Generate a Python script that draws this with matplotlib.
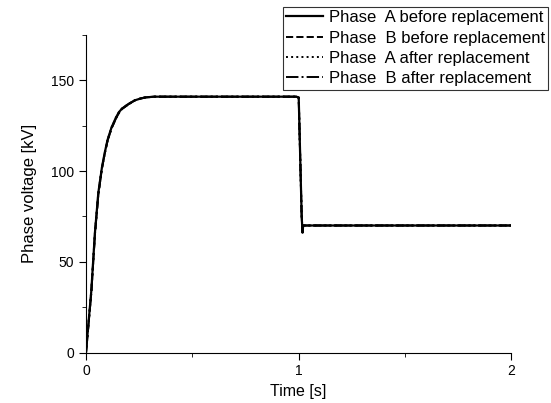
import matplotlib
matplotlib.use('Agg')
import matplotlib.pyplot as plt
from matplotlib.ticker import MultipleLocator

plt.rcParams['font.family'] = ['Liberation Sans', 'DejaVu Sans']

# time [s] and phase voltage [kV]
T_A_BEFORE = [0, 0.01, 0.025, 0.042, 0.058, 0.075, 0.088, 0.101, 0.12, 0.141, 0.155, 0.17, 0.2, 0.23, 0.257, 0.28, 0.32, 0.5, 0.99, 1.001, 1.015, 1.019, 1.022, 1.03, 1.2, 1.6, 2.0]
V_A_BEFORE = [0, 14, 34, 66, 88, 102, 110, 117, 124, 129.5, 132.5, 134.5, 137, 139, 140, 140.6, 141, 141, 141, 140.5, 75, 66, 70, 70, 70, 70, 70]

T_B_BEFORE = [0, 0.01, 0.025, 0.042, 0.058, 0.075, 0.088, 0.101, 0.12, 0.141, 0.155, 0.17, 0.2, 0.23, 0.257, 0.28, 0.32, 0.5, 0.99, 1.001, 1.015, 1.019, 1.022, 1.03, 1.2, 1.6, 2.0]
V_B_BEFORE = [0, 13, 33, 65, 87, 101.5, 109.5, 116.5, 123.5, 129, 132, 134.3, 136.8, 139, 140, 140.6, 141, 141, 141, 140.5, 75, 67, 70, 70, 70, 70, 70]

T_A_AFTER = [0, 0.01, 0.025, 0.042, 0.058, 0.075, 0.088, 0.101, 0.12, 0.141, 0.155, 0.17, 0.2, 0.23, 0.257, 0.28, 0.32, 0.5, 0.99, 1.001, 1.015, 1.019, 1.022, 1.03, 1.2, 1.6, 2.0]
V_A_AFTER = [0, 14, 34, 66, 88, 102, 110, 117, 124, 129.5, 132.5, 134.5, 137, 139, 140, 140.6, 141, 141, 141, 140.5, 75, 66, 70, 70, 70, 70, 70]

T_B_AFTER = [0, 0.01, 0.025, 0.042, 0.058, 0.075, 0.088, 0.101, 0.12, 0.141, 0.155, 0.17, 0.2, 0.23, 0.257, 0.28, 0.32, 0.5, 0.99, 1.001, 1.015, 1.019, 1.022, 1.03, 1.2, 1.6, 2.0]
V_B_AFTER = [0, 13, 33, 65, 87, 101.5, 109.5, 116.5, 123.5, 129, 132, 134.3, 136.8, 139, 140, 140.6, 141, 141, 141, 140.5, 75, 67, 70, 70, 70, 70, 70]

fig = plt.figure(figsize=(5.51, 4.03), dpi=100)
# axes box in pixels: x 86..511, y 35..352.5
ax = fig.add_axes([86 / 551, 50.5 / 403, 425 / 551, 317.5 / 403])

ax.plot(T_A_BEFORE, V_A_BEFORE, color='black', ls='-', lw=1.6, label='Phase  A before replacement')
ax.plot(T_B_BEFORE, V_B_BEFORE, color='black', ls='--', lw=1.4, label='Phase  B before replacement')
ax.plot(T_A_AFTER, V_A_AFTER, color='black', ls=':', lw=1.4, label='Phase  A after replacement')
ax.plot(T_B_AFTER, V_B_AFTER, color='black', ls='-.', lw=1.4, label='Phase  B after replacement')

ax.set_xlim(0, 2)
ax.set_ylim(0, 175)
ax.xaxis.set_major_locator(MultipleLocator(1))
ax.xaxis.set_minor_locator(MultipleLocator(0.5))
ax.yaxis.set_major_locator(MultipleLocator(50))
ax.yaxis.set_minor_locator(MultipleLocator(25))
ax.spines['top'].set_visible(False)
ax.spines['right'].set_visible(False)
ax.tick_params(which='major', direction='out', length=5, labelsize=10)
ax.tick_params(which='minor', direction='out', length=3)

ax.set_xlabel('Time [s]', fontsize=11.5, labelpad=4)
ax.set_ylabel('Phase voltage [kV]', fontsize=12, labelpad=10)

leg = fig.legend(loc='upper right', bbox_to_anchor=(548 / 551, 1 - 7 / 403), fontsize=12,
                 frameon=True, fancybox=False, edgecolor='black', borderaxespad=0,
                 handlelength=2.2, handletextpad=0.35, borderpad=0.2, labelspacing=0.32)
leg.get_frame().set_linewidth(0.8)

fig.savefig('out.png', dpi=100)
